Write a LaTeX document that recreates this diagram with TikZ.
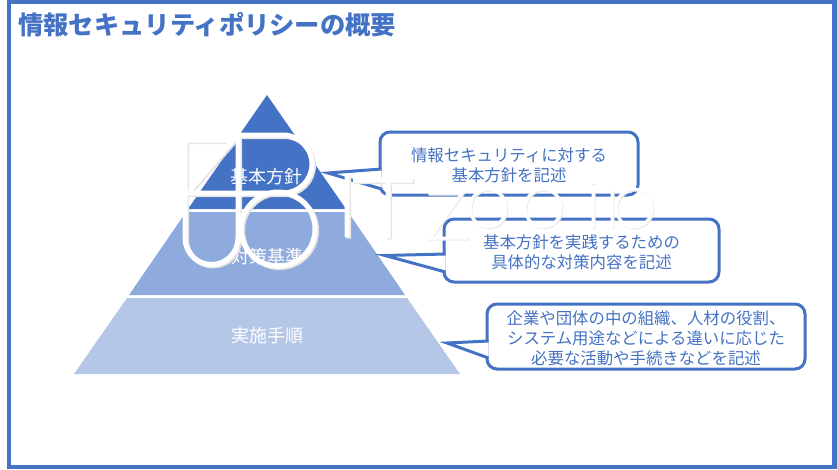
\documentclass[tikz,border=0pt]{standalone}
\usepackage{fontspec}
\newfontfamily\cjk{Noto Sans CJK JP}
\usetikzlibrary{positioning}
\definecolor{hblue}{HTML}{4472C4}
\definecolor{mblue}{HTML}{8FAADC}
\definecolor{lblue}{HTML}{B4C7E7}
\tikzstyle{band} = [draw=none]
\tikzstyle{bandlabel} = [text=white, font=\cjk\fontsize{18}{22}\selectfont]
\tikzstyle{bubble} = [rectangle, rounded corners=10pt, draw=hblue, line width=3pt, fill=white]
\tikzstyle{bubbletext} = [text=hblue, align=center, font=\cjk\fontsize{16.4}{20}\selectfont, inner sep=0pt]
\tikzstyle{pointer} = [draw=hblue, line width=3pt, fill=white, line join=miter]
% logo strokes
\newcommand{\logoleft}{
  (185,140) -- (233,140) -- (190,190)
  (185,193) -- (283,193) arc (90:-90:29) -- (238,135)
  (185,137) -- (185,238) arc (180:0:26.5) -- (238,135)
  (278,229) circle (37)
  (347,175) -- (347,237)
  (353,180) -- (413,180) (388,180) -- (388,238)
}
\newcommand{\logoright}{
  (428,193) -- (462,193) -- (430,238) -- (468,238)
  (488,208) ellipse (18 and 19)
  (543,208) ellipse (18 and 19)
  (593,192) -- (593,228) (593,183) -- (593,184)
  (612,190) -- (612,228)
  (634,208) ellipse (18 and 19)
}
\begin{document}
\begin{tikzpicture}[x=1pt,y=-1pt]
\useasboundingbox (0,0) rectangle (837,469);

% Marco
\draw [hblue, line width=4.5pt] (9.2,2) rectangle (834.6,467);
\node (title) [anchor=west, text=hblue, font=\cjk\bfseries\fontsize{25.3}{28}\selectfont, inner sep=0pt] at (18,25) {情報セキュリティポリシーの概要};

% Piramide
\fill [band, hblue] (267,95) -- (346,209) -- (188,209) -- cycle;
\fill [band, mblue] (186,212) -- (348,212) -- (405,295) -- (129,295) -- cycle;
\fill [band, lblue] (127,298) -- (407,298) -- (460,374) -- (74,374) -- cycle;
\node (policy) [bandlabel] at (266,177) {基本方針};
\node (standard) [bandlabel] at (267,257) {対策基準};
\node (procedure) [bandlabel] at (267,336) {実施手順};

% Globos
\coordinate (tipa) at (328,173);
\coordinate (tipb) at (385,255.5);
\coordinate (tipc) at (447,343);
\node (boxa) [bubble, minimum width=258pt, minimum height=63pt] at (509,163.5) {};
\node (boxb) [bubble, minimum width=275pt, minimum height=63pt] at (581.5,250.5) {};
\node (boxc) [bubble, minimum width=318pt, minimum height=65pt] at (646,336.5) {};
\node (texta) [bubbletext] at ([yshift=-2pt]boxa.center) {情報セキュリティに対する\\基本方針を記述};
\node (textb) [bubbletext] at ([yshift=-2pt]boxb.center) {基本方針を実践するための\\具体的な対策内容を記述};
\node (textc) [bubbletext] at ([yshift=-2pt]boxc.center) {企業や団体の中の組織、人材の役割、\\システム用途などによる違いに応じた\\必要な活動や手続きなどを記述};
\draw [pointer] (381.5,169) -- (tipa) -- (381.5,189);
\draw [pointer] (445.5,254) -- (tipb) -- (445.5,272);
\draw [pointer] (488.5,341) -- (tipc) -- (488.5,358);

% Logo
\draw [black!10, line width=5pt, xshift=1.5pt, yshift=-1.5pt] \logoleft;
\draw [white, line width=5pt] \logoleft;
\draw [black!8, line width=3pt, xshift=1pt, yshift=-1pt] \logoright;
\draw [white, line width=3pt] \logoright;

\end{tikzpicture}
\end{document}
